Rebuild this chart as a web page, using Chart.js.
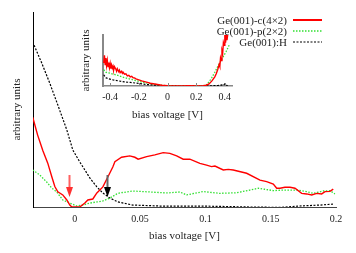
<!DOCTYPE html>
<html>
<head>
<meta charset="utf-8">
<script src="https://cdn.jsdelivr.net/npm/chart.js@4.4.1/dist/chart.umd.min.js"></script>
<style>
  body { margin: 0; background: #fff; }
  #wrap { position: relative; width: 356px; height: 253px; }
  #mainChart { position: absolute; left: 0; top: 0; }
  #insetChart { position: absolute; left: 80px; top: 25px; }
</style>
</head>
<body>
<div id="wrap">
  <canvas id="mainChart" width="356" height="253"></canvas>
  <canvas id="insetChart" width="160" height="100"></canvas>
</div>
<script>
// main panel: bias voltage [V] vs arbitrary units
const seriesNames = ['Ge(001)-c(4×2)', 'Ge(001)-p(2×2)', 'Ge(001):H'];

const c4x2V = [-0.0322, -0.0285, -0.0245, -0.0207, -0.0176, -0.0153, -0.013, -0.0092, -0.0061, -0.0038,
  -0.0023, 0.0038, 0.0077, 0.010, 0.0138, 0.0169, 0.0215, 0.0253, 0.0291, 0.0307,
  0.0358, 0.0421, 0.046, 0.0485, 0.055, 0.0613, 0.0677, 0.0728, 0.078, 0.083,
  0.0881, 0.0958, 0.1009, 0.1047, 0.1073, 0.1137, 0.1175, 0.1213, 0.1316, 0.1418,
  0.1469, 0.152, 0.1546, 0.1571, 0.1609, 0.1648, 0.1686, 0.1737, 0.1775, 0.1814,
  0.1852, 0.189, 0.1916, 0.1954, 0.1979];
const c4x2Y = [0.46, 0.37, 0.29, 0.225, 0.155, 0.105, 0.078, 0.062, 0.036, 0.01,
  0, 0, 0.02, 0.036, 0.041, 0.072, 0.103, 0.154, 0.205, 0.232,
  0.255, 0.262, 0.255, 0.245, 0.258, 0.267, 0.279, 0.275, 0.262, 0.245,
  0.245, 0.224, 0.215, 0.207, 0.21, 0.19, 0.193, 0.19, 0.173, 0.138,
  0.13, 0.118, 0.096, 0.096, 0.101, 0.101, 0.096, 0.07, 0.067, 0.062,
  0.07, 0.067, 0.079, 0.08, 0.092];

const p2x2V = [-0.0322, -0.0268, -0.0215, -0.0176, -0.0138, -0.0092, -0.0038, 0.0015, 0.0061, 0.0115,
  0.0169, 0.0215, 0.0268, 0.0322, 0.0345, 0.0444, 0.0575, 0.0705, 0.0805, 0.0856,
  0.0983, 0.111, 0.1239, 0.1341, 0.1405, 0.1456, 0.152, 0.1596, 0.1699, 0.1775,
  0.1826, 0.1903, 0.1954, 0.1992];
const p2x2Y = [0.19, 0.164, 0.128, 0.097, 0.077, 0.036, 0.02, 0.005, 0.01, 0.02,
  0.026, 0.031, 0.046, 0.067, 0.072, 0.082, 0.077, 0.072, 0.077, 0.062,
  0.079, 0.07, 0.073, 0.087, 0.096, 0.091, 0.084, 0.087, 0.087, 0.079,
  0.07, 0.082, 0.084, 0.067];

const hV = [-0.0322, -0.0253, -0.0192, -0.013, -0.0061, -0.0015, 0.0038, 0.0077, 0.0115, 0.0169,
  0.0215, 0.0268, 0.033, 0.0444, 0.065, 0.0958, 0.134, 0.157, 0.172, 0.188, 0.1977];
const hY = [0.846, 0.738, 0.636, 0.523, 0.395, 0.292, 0.231, 0.19, 0.149, 0.103,
  0.072, 0.046, 0.026, 0.01, 0.005, 0.005, 0.0, -0.002, 0.005, 0.01, 0.015];

const xTicks = [0, 0.05, 0.1, 0.15, 0.2];
const xTickLabels = ['0', '0.05', '0.1', '0.15', '0.2'];

// arrows marking the gap edges
const arrowV = [-0.0046, 0.0245];
const arrowColors = ['#ff3030', '#000000'];

// inset panel
const insetRedV = [-0.445, -0.44, -0.435, -0.43, -0.425, -0.42, -0.415, -0.41, -0.405, -0.40,
  -0.395, -0.39, -0.385, -0.38, -0.375, -0.37, -0.36, -0.355, -0.35, -0.34,
  -0.335, -0.33, -0.32, -0.315, -0.31, -0.30, -0.29, -0.28, -0.27, -0.26,
  -0.25, -0.24, -0.23, -0.22, -0.21, -0.20, -0.18, -0.16, -0.14, -0.12,
  -0.10, -0.08, -0.06, -0.04, -0.02, 0, 0.05, 0.10, 0.15, 0.20,
  0.25, 0.27, 0.29, 0.31, 0.33, 0.34, 0.35, 0.36, 0.365, 0.37,
  0.375, 0.38, 0.385, 0.39, 0.395, 0.40, 0.405, 0.41, 0.415, 0.42];
const insetRedY = [0.45, 0.6, 0.42, 0.55, 0.4, 0.5, 0.38, 0.46, 0.36, 0.44,
  0.34, 0.41, 0.35, 0.39, 0.32, 0.38, 0.33, 0.29, 0.34, 0.28,
  0.31, 0.26, 0.29, 0.25, 0.27, 0.23, 0.24, 0.2, 0.21, 0.18,
  0.19, 0.16, 0.16, 0.14, 0.13, 0.12, 0.1, 0.085, 0.07, 0.055,
  0.045, 0.035, 0.025, 0.015, 0.01, 0.005, 0.003, 0.003, 0.004, 0.003,
  0.006, 0.015, 0.04, 0.1, 0.18, 0.24, 0.32, 0.42, 0.38, 0.55,
  0.5, 0.7, 0.65, 0.85, 0.8, 1.0, 0.85, 1.0, 0.9, 1.0];

const insetGreenV = [-0.445, -0.43, -0.42, -0.40, -0.38, -0.36, -0.32, -0.28, -0.24, -0.20,
  -0.16, -0.12, -0.08, -0.04, 0, 0.1, 0.2, 0.25, 0.27, 0.29,
  0.31, 0.33, 0.35, 0.37, 0.39, 0.41, 0.43];
const insetGreenY = [0.32, 0.27, 0.26, 0.25, 0.23, 0.22, 0.18, 0.15, 0.12, 0.09,
  0.065, 0.045, 0.03, 0.015, 0.005, 0.003, 0.003, 0.005, 0.02, 0.08,
  0.17, 0.27, 0.38, 0.48, 0.58, 0.68, 0.8];

const insetHV = [-0.445, -0.43, -0.41, -0.38, -0.34, -0.30, -0.26, -0.20, -0.15, -0.10,
  -0.05, 0, 0.1, 0.2, 0.3, 0.35, 0.38, 0.39, 0.40, 0.41, 0.42];
const insetHY = [0.22, 0.16, 0.14, 0.12, 0.1, 0.08, 0.07, 0.05, 0.03, 0.02,
  0.01, 0.003, 0.002, 0.002, 0.003, 0.01, 0.02, 0.01, 0.04, 0.015, 0.01];

const insetTicks = [-0.4, -0.2, 0, 0.2, 0.4];
const insetTickLabels = ['-0.4', '-0.2', '0', '0.2', '0.4'];

const serif = "'Liberation Serif', 'DejaVu Serif', serif";
const txt = '#222';

function pts(xs, ys) {
  return xs.map((x, i) => ({ x: x, y: ys[i] }));
}

const styles = [
  { borderColor: '#ff0000', borderWidth: 1.4, borderDash: [] },
  { borderColor: '#33e033', borderWidth: 1.3, borderDash: [1.5, 1.5] },
  { borderColor: '#000000', borderWidth: 1.2, borderDash: [2, 1.5] }
];

function makeSets(list) {
  return list.map((d, i) => Object.assign({
    label: seriesNames[i],
    data: pts(d[0], d[1]),
    pointRadius: 0,
    fill: false,
    tension: 0
  }, styles[i]));
}

// legend on the top right: text right aligned, sample line after it
const keyPlugin = {
  id: 'key',
  afterDraw(chart) {
    const ctx = chart.ctx;
    ctx.save();
    chart.data.datasets.forEach((ds, i) => {
      const y = 20 + i * 11;
      ctx.font = '11px ' + serif;
      ctx.fillStyle = txt;
      ctx.textAlign = 'right';
      ctx.textBaseline = 'middle';
      ctx.fillText(ds.label, 287, y + 1);
      ctx.strokeStyle = ds.borderColor;
      ctx.lineWidth = i === 0 ? 2 : ds.borderWidth;
      ctx.setLineDash(ds.borderDash);
      ctx.beginPath();
      ctx.moveTo(293, y);
      ctx.lineTo(322, y);
      ctx.stroke();
      ctx.setLineDash([]);
    });
    ctx.restore();
  }
};

const arrowPlugin = {
  id: 'arrows',
  afterDatasetsDraw(chart) {
    const ctx = chart.ctx;
    const xs = chart.scales.x, ys = chart.scales.y;
    ctx.save();
    arrowV.forEach((v, i) => {
      const x = Math.round(xs.getPixelForValue(v)) + 0.5;
      const top = ys.getPixelForValue(0.164);
      const tip = ys.getPixelForValue(0.051);
      ctx.strokeStyle = i === 0 ? '#ff6060' : '#666';
      ctx.lineWidth = 2;
      ctx.beginPath();
      ctx.moveTo(x, top);
      ctx.lineTo(x, tip - 8);
      ctx.stroke();
      ctx.fillStyle = arrowColors[i];
      ctx.beginPath();
      ctx.moveTo(x - 3.5, tip - 10);
      ctx.lineTo(x + 3.5, tip - 10);
      ctx.lineTo(x, tip);
      ctx.closePath();
      ctx.fill();
    });
    ctx.restore();
  }
};

new Chart(document.getElementById('mainChart').getContext('2d'), {
  type: 'line',
  data: { datasets: makeSets([[c4x2V, c4x2Y], [p2x2V, p2x2Y], [hV, hY]]) },
  options: {
    responsive: false,
    animation: false,
    layout: { padding: { top: 12, right: 20, left: 0, bottom: 0 } },
    plugins: { legend: { display: false }, tooltip: { enabled: false } },
    scales: {
      x: {
        type: 'linear',
        min: -0.032,
        max: 0.2,
        afterBuildTicks: s => { s.ticks = xTicks.map(v => ({ value: v })); },
        afterFit: s => { s.height = 46; },
        grid: { display: true, drawOnChartArea: false, drawTicks: false },
        border: { color: '#444', width: 1 },
        ticks: {
          font: { family: serif, size: 10 }, color: txt, padding: 6, maxRotation: 0,
          callback: (v, i) => xTickLabels[i]
        },
        title: {
          display: true, text: 'bias voltage [V]', color: txt,
          font: { family: serif, size: 11 }, padding: { top: 0, bottom: 10 }
        }
      },
      y: {
        min: 0,
        max: 1,
        afterFit: s => { s.width = 33; },
        grid: { display: true, drawOnChartArea: false, drawTicks: false },
        border: { color: '#000', width: 1 },
        ticks: { display: false },
        title: {
          display: true, text: 'arbitrary units', color: txt,
          font: { family: serif, size: 11 }, padding: { top: 11, bottom: 0 }
        }
      }
    }
  },
  plugins: [keyPlugin, arrowPlugin]
});

// small inward ticks on the inset x axis
const insetTickPlugin = {
  id: 'insetTicks',
  afterDraw(chart) {
    const ctx = chart.ctx, xs = chart.scales.x;
    const b = chart.chartArea.bottom;
    ctx.save();
    ctx.strokeStyle = '#888';
    ctx.lineWidth = 1;
    insetTicks.forEach(v => {
      const x = Math.round(xs.getPixelForValue(v)) + 0.5;
      ctx.beginPath();
      ctx.moveTo(x, b);
      ctx.lineTo(x, b - 3);
      ctx.stroke();
    });
    ctx.restore();
  }
};

new Chart(document.getElementById('insetChart').getContext('2d'), {
  type: 'line',
  data: { datasets: makeSets([[insetRedV, insetRedY], [insetGreenV, insetGreenY], [insetHV, insetHY]]) },
  options: {
    responsive: false,
    animation: false,
    layout: { padding: { top: 10, right: 8, left: 0, bottom: 0 } },
    plugins: { legend: { display: false }, tooltip: { enabled: false } },
    scales: {
      x: {
        type: 'linear',
        min: -0.45,
        max: 0.45,
        afterBuildTicks: s => { s.ticks = insetTicks.map(v => ({ value: v })); },
        afterFit: s => { s.height = 39; },
        grid: { display: true, drawOnChartArea: false, drawTicks: false },
        border: { color: '#888', width: 1.5 },
        ticks: {
          font: { family: serif, size: 10 }, color: txt, padding: 5, maxRotation: 0,
          callback: (v, i) => insetTickLabels[i]
        },
        title: {
          display: true, text: 'bias voltage [V]', color: txt,
          font: { family: serif, size: 11 }, padding: { top: 0, bottom: 3 }
        }
      },
      y: {
        min: 0,
        max: 1,
        afterFit: s => { s.width = 23; },
        grid: { display: true, drawOnChartArea: false, drawTicks: false },
        border: { color: '#888', width: 2 },
        ticks: { display: false },
        title: {
          display: true, text: 'arbitrary units', color: txt,
          font: { family: serif, size: 11 }, padding: { top: 0, bottom: 0 }
        }
      }
    }
  },
  plugins: [insetTickPlugin]
});
</script>
</body>
</html>
